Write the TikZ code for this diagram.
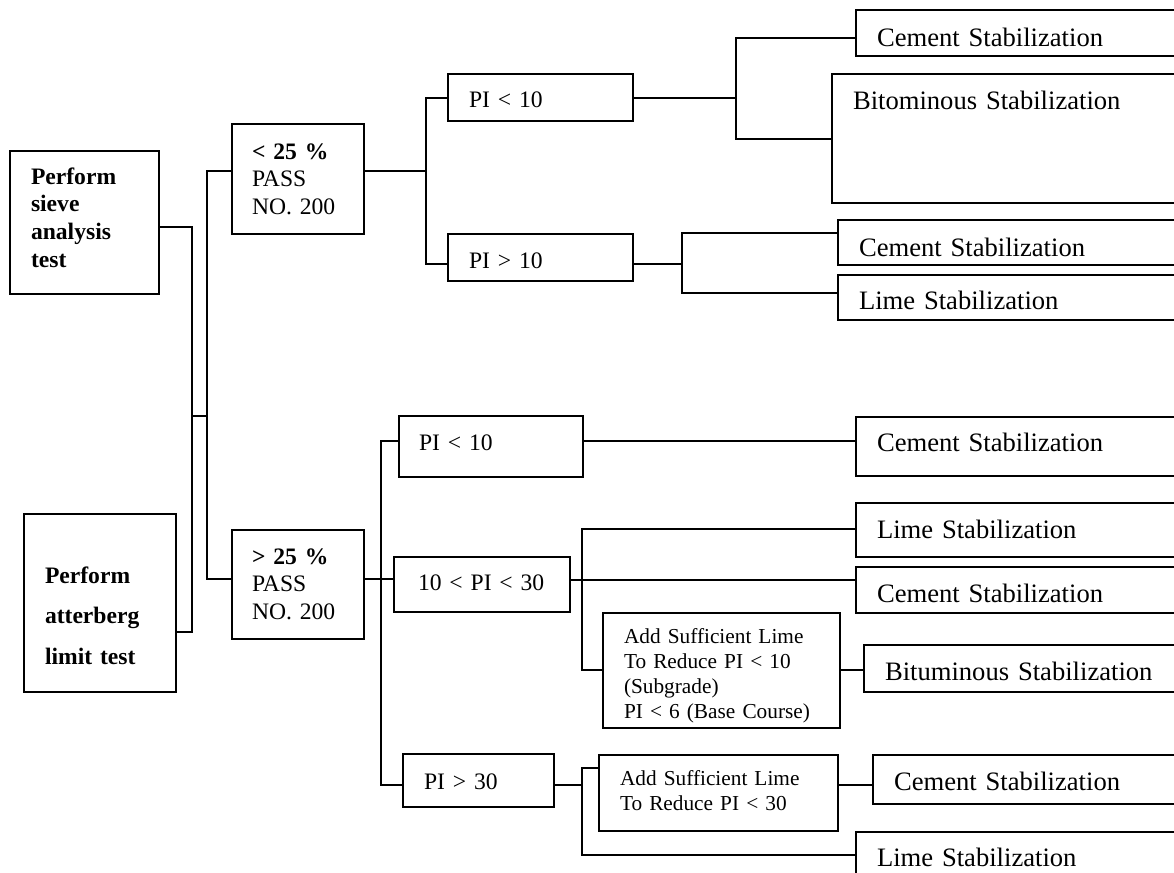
\documentclass[tikz,border=0pt]{standalone}
\usepackage{fontspec}
\setmainfont{Liberation Serif}

\begin{document}
\begin{tikzpicture}[x=1pt,y=-1pt]
    \tikzset{box/.style n args={4}{draw, line width=2pt, anchor=north west, align=left,
                 inner ysep=0pt, text width=#1pt, inner xsep=#2pt, text height=#3pt, text depth=#4pt},
             link/.style={line width=2pt},
             bigtxt/.style={font=\fontsize{26.6}{30}\selectfont},
             midtxt/.style={font=\fontsize{23.6}{27.5}\selectfont},
             smltxt/.style={font=\fontsize{21.3}{25}\selectfont}}
    \useasboundingbox (0,0) rectangle (1174,872);
    \clip (0,0) rectangle (1174,872);
    % tests
    \node[box={107}{21}{33}{110}, font=\fontsize{23.6}{27.7}\selectfont\bfseries] (sieve) at (9,150) {Perform\\sieve\\analysis\\test};
    \node[box={110}{21}{69}{109}, font=\fontsize{23.6}{40.5}\selectfont\bfseries] (atterberg) at (23,513) {Perform\\atterberg\\limit test};
    % passing no. 200
    \node[box={92}{20}{35}{75}, midtxt] (lt25) at (231,123) {\textbf{< 25 \%}\\PASS\\NO. 200};
    \node[box={92}{20}{34}{75}, midtxt] (gt25) at (231,529) {\textbf{> 25 \%}\\PASS\\NO. 200};
    % plasticity index
    \node[box={143}{21}{34}{13}, midtxt] (pia) at (447,73) {PI < 10};
    \node[box={143}{21}{34}{13}, midtxt] (pib) at (447,233) {PI > 10};
    \node[box={144}{20}{34}{27}, midtxt] (pic) at (398,415) {PI < 10};
    \node[box={136}{20}{33}{22}, midtxt] (pid) at (393,556) {\hspace*{4pt}10 < PI < 30};
    \node[box={109}{21}{35}{18}, midtxt] (pie) at (402,753) {PI > 30};
    % lime treatment
    \node[box={195}{21}{30}{85}, smltxt] (add1) at (602,612) {Add Sufficient Lime\\To Reduce PI < 10\\(Subgrade)\\PI < 6 (Base Course)};
    \node[box={197}{21}{30}{46}, smltxt] (add2) at (598,754) {Add Sufficient Lime\\To Reduce PI < 30};
    % stabilization
    \node[box={293}{21}{37}{9}, bigtxt] (cem1) at (855,9) {Cement Stabilization};
    \node[box={317}{21}{36}{93}, bigtxt] (bit) at (831,73) {Bitominous Stabilization};
    \node[box={311}{21}{36}{9}, bigtxt] (cem2) at (837,219) {Cement Stabilization};
    \node[box={311}{21}{34}{11}, bigtxt] (lime2) at (837,274) {Lime Stabilization};
    \node[box={293}{21}{34}{25}, bigtxt] (cem3) at (855,416) {Cement Stabilization};
    \node[box={293}{21}{35}{19}, bigtxt] (lime4) at (855,502) {Lime Stabilization};
    \node[box={293}{21}{35}{11}, bigtxt] (cem4) at (855,566) {Cement Stabilization};
    \node[box={285}{21}{35}{12}, bigtxt] (bitu) at (863,644) {Bituminous Stabilization};
    \node[box={276}{21}{35}{14}, bigtxt] (cem5) at (872,754) {Cement Stabilization};
    \node[box={293}{21}{34}{35}, bigtxt] (lime3) at (855,831) {Lime Stabilization};
    % junctions
    \coordinate (s1) at (192,227);
    \coordinate (s2) at (192,632);
    \coordinate (s3) at (192,416);
    \coordinate (t1) at (207,171);
    \coordinate (t2) at (207,579);
    \coordinate (t3) at (207,416);
    \coordinate (u1) at (426,171);
    \coordinate (u2) at (426,98);
    \coordinate (u3) at (426,264);
    \coordinate (v1) at (736,98);
    \coordinate (v2) at (736,38);
    \coordinate (v3) at (736,139);
    \coordinate (w1) at (682,264);
    \coordinate (w2) at (682,233);
    \coordinate (w3) at (682,293);
    \coordinate (x1) at (381,441);
    \coordinate (x2) at (381,785);
    \coordinate (y1) at (582,580);
    \coordinate (y2) at (582,529);
    \coordinate (y3) at (582,670);
    \coordinate (z1) at (582,785);
    \coordinate (z2) at (582,768);
    \coordinate (z3) at (582,855);
    % edges
    \draw[link] (s1 -| sieve.east) -- (s1) -- (s2) -- (s2 -| atterberg.east);
    \draw[link] (s3) -- (t3);
    \draw[link] (t1 -| lt25.west) -- (t1) -- (t2) -- (t2 -| gt25.west);
    \draw[link] (u1 -| lt25.east) -- (u1);
    \draw[link] (u2 -| pia.west) -- (u2) -- (u3) -- (u3 -| pib.west);
    \draw[link] (v1 -| pia.east) -- (v1);
    \draw[link] (v2 -| cem1.west) -- (v2) -- (v3) -- (v3 -| bit.west);
    \draw[link] (w1 -| pib.east) -- (w1);
    \draw[link] (w2 -| cem2.west) -- (w2) -- (w3) -- (w3 -| lime2.west);
    \draw[link] (t2 -| gt25.east) -- (t2 -| pid.west);
    \draw[link] (x1 -| pic.west) -- (x1) -- (x2) -- (x2 -| pie.west);
    \draw[link] (x1 -| pic.east) -- (x1 -| cem3.west);
    \draw[link] (y1 -| pid.east) -- (y1 -| cem4.west);
    \draw[link] (y2 -| lime4.west) -- (y2) -- (y3) -- (y3 -| add1.west);
    \draw[link] (y3 -| add1.east) -- (y3 -| bitu.west);
    \draw[link] (z1 -| pie.east) -- (z1);
    \draw[link] (z2 -| add2.west) -- (z2) -- (z3) -- (z3 -| lime3.west);
    \draw[link] (z1 -| add2.east) -- (z1 -| cem5.west);
\end{tikzpicture}
\end{document}
